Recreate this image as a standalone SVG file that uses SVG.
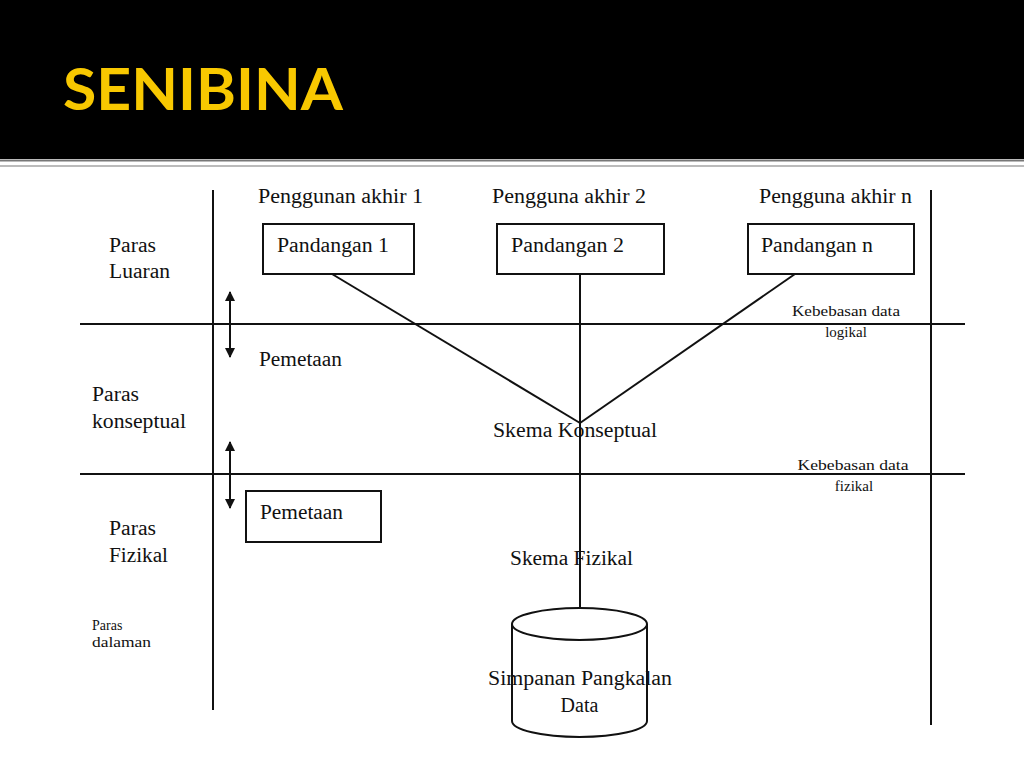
<svg xmlns="http://www.w3.org/2000/svg" width="1024" height="768" viewBox="0 0 1024 768">
<defs>
<style>
.t{font-family:"Liberation Serif","Times New Roman",serif;font-size:20px;fill:#111}
.s{font-size:15px}
.xs{font-size:14px}
.ln{stroke:#111;stroke-width:2;fill:none}
.bx{stroke:#111;stroke-width:2;fill:#fff}
.title{font-family:Lato,"Open Sans","Liberation Sans",sans-serif;font-weight:bold;font-size:58px;fill:#F8C800}
</style>
<marker id="ah" viewBox="0 0 10 10" refX="9" refY="5" markerWidth="10" markerHeight="10" markerUnits="userSpaceOnUse" orient="auto-start-reverse">
<path d="M0,0 L10,5 L0,10 Z" fill="#111"/>
</marker>
</defs>
<rect width="1024" height="768" fill="#fff"/>
<g id="header">
<rect x="0" y="0" width="1024" height="159" fill="#000"/>
<line x1="0" y1="160.5" x2="1024" y2="160.5" stroke="#777" stroke-width="2"/>
<line x1="0" y1="166" x2="1024" y2="166" stroke="#bbb" stroke-width="2"/>
<text class="title" x="63" y="110" textLength="280" lengthAdjust="spacingAndGlyphs">SENIBINA</text>
</g>
<g id="grid">
<line class="ln" x1="213" y1="190" x2="213" y2="710"/>
<line class="ln" x1="931" y1="190" x2="931" y2="725"/>
<line class="ln" x1="80" y1="324" x2="965" y2="324"/>
<line class="ln" x1="80" y1="474" x2="965" y2="474"/>
</g>
<g id="connectors">
<line class="ln" x1="332" y1="274" x2="580" y2="423"/>
<line class="ln" x1="795" y1="274" x2="580" y2="423"/>
<line class="ln" x1="580" y1="274" x2="580" y2="608"/>
<line class="ln" x1="230" y1="292" x2="230" y2="357" marker-start="url(#ah)" marker-end="url(#ah)"/>
<line class="ln" x1="230" y1="442" x2="230" y2="508" marker-start="url(#ah)" marker-end="url(#ah)"/>
</g>
<g id="user1">
<text class="t" x="258" y="203" textLength="165" lengthAdjust="spacingAndGlyphs">Penggunan akhir 1</text>
</g>
<g id="user2">
<text class="t" x="492" y="203" textLength="154" lengthAdjust="spacingAndGlyphs">Pengguna akhir 2</text>
</g>
<g id="usern">
<text class="t" x="759" y="203" textLength="153" lengthAdjust="spacingAndGlyphs">Pengguna akhir n</text>
</g>
<g id="view1">
<rect class="bx" x="263" y="224" width="151" height="50"/>
<text class="t" x="277" y="252" textLength="112" lengthAdjust="spacingAndGlyphs">Pandangan 1</text>
</g>
<g id="view2">
<rect class="bx" x="497" y="224" width="167" height="50"/>
<text class="t" x="511" y="252" textLength="113" lengthAdjust="spacingAndGlyphs">Pandangan 2</text>
</g>
<g id="viewn">
<rect class="bx" x="748" y="224" width="166" height="50"/>
<text class="t" x="761" y="252" textLength="112" lengthAdjust="spacingAndGlyphs">Pandangan n</text>
</g>
<g id="level-external">
<text class="t" x="109" y="252" textLength="47" lengthAdjust="spacingAndGlyphs">Paras</text>
<text class="t" x="109" y="278" textLength="61" lengthAdjust="spacingAndGlyphs">Luaran</text>
</g>
<g id="level-conceptual">
<text class="t" x="92" y="401" textLength="47" lengthAdjust="spacingAndGlyphs">Paras</text>
<text class="t" x="92" y="428" textLength="94" lengthAdjust="spacingAndGlyphs">konseptual</text>
</g>
<g id="level-physical">
<text class="t" x="109" y="535" textLength="47" lengthAdjust="spacingAndGlyphs">Paras</text>
<text class="t" x="109" y="562" textLength="59" lengthAdjust="spacingAndGlyphs">Fizikal</text>
</g>
<g id="level-internal">
<text class="t xs" x="92" y="630">Paras</text>
<text class="t xs" x="92" y="647" textLength="59" lengthAdjust="spacingAndGlyphs">dalaman</text>
</g>
<g id="mapping1">
<text class="t" x="259" y="366" textLength="83" lengthAdjust="spacingAndGlyphs">Pemetaan</text>
</g>
<g id="mapping2">
<rect class="bx" x="246" y="491" width="135" height="51"/>
<text class="t" x="260" y="519" textLength="83" lengthAdjust="spacingAndGlyphs">Pemetaan</text>
</g>
<g id="logical-independence">
<text class="t s" x="846" y="316" text-anchor="middle" textLength="108" lengthAdjust="spacingAndGlyphs">Kebebasan data</text>
<text class="t s" x="846" y="337" text-anchor="middle">logikal</text>
</g>
<g id="physical-independence">
<text class="t s" x="853" y="470" text-anchor="middle" textLength="111" lengthAdjust="spacingAndGlyphs">Kebebasan data</text>
<text class="t s" x="854" y="491" text-anchor="middle">fizikal</text>
</g>
<g id="conceptual-schema">
<text class="t" x="493" y="437" textLength="164" lengthAdjust="spacingAndGlyphs">Skema Konseptual</text>
</g>
<g id="physical-schema">
<text class="t" x="510" y="565" textLength="123" lengthAdjust="spacingAndGlyphs">Skema Fizikal</text>
</g>
<g id="database">
<path class="bx" d="M512,624 L512,721 A67.5,16 0 0 0 647,721 L647,624"/>
<ellipse class="bx" cx="579.5" cy="624" rx="67.5" ry="16"/>
<text class="t" x="488" y="685" textLength="184" lengthAdjust="spacingAndGlyphs">Simpanan Pangkalan</text>
<text class="t" x="579.5" y="712" text-anchor="middle">Data</text>
</g>
</svg>
